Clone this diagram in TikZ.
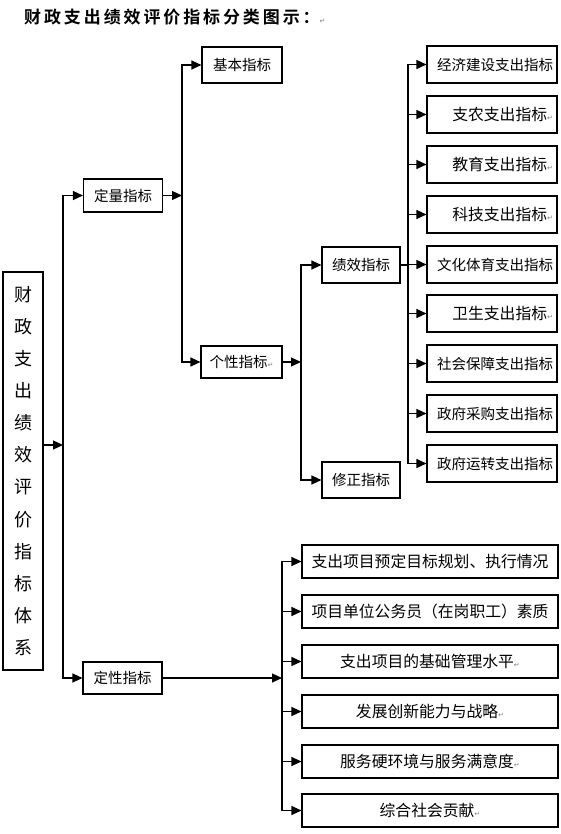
\documentclass[tikz,border=0pt]{standalone}
\usepackage{fontspec}
\setmainfont{Noto Sans CJK SC}
\newfontfamily\titlefont[LetterSpace=17]{Noto Sans CJK SC Bold}
\newfontfamily\symfont{DejaVu Sans}
\usetikzlibrary{arrows.meta}
\newcommand\rmk{{\symfont\fontsize{7}{7}\selectfont\color{gray}↵}}
\tikzset{
  bx/.style={draw=black, line width=1.1pt, inner sep=0pt, fill=white},
  fa/.style={font=\fontsize{14.5}{16}\selectfont},
  fb/.style={font=\fontsize{15.8}{17}\selectfont},
  rbox/.style={bx, minimum width=130pt, minimum height=37pt, text width=122pt, align=right},
  qbox/.style={bx, fb, minimum width=256pt, minimum height=33pt, text width=256pt, align=center},
  sbox/.style={bx, fa, minimum width=79pt, minimum height=34pt, align=center},
  ln/.style={line width=1.2pt},
  ar/.style={ln, -{Triangle[length=10pt,width=9pt]}},
}
\begin{document}
\begin{tikzpicture}[x=1pt,y=-1pt]
\useasboundingbox[fill=white] (0,0) rectangle (560,834);

% title
\node[anchor=west, inner sep=0pt, font=\fontsize{17}{18}\selectfont\titlefont] (title) at (24,17.5) {财政支出绩效评价指标分类图示：\rmk};

% main box
\node[bx, minimum width=40pt, minimum height=398pt, text width=40pt, align=center,
      font=\fontsize{18}{32.1}\selectfont] (main) at (23,471)
  {财\\政\\支\\出\\绩\\效\\评\\价\\指\\标\\体\\系};

% level 2
\node[sbox, minimum height=33pt] (dl) at (123,195.5) {定量指标};
\node[sbox, minimum height=32pt] (dx) at (122.5,678) {定性指标};

% level 3
\node[sbox, minimum width=80pt, minimum height=36pt] (jb) at (242,65) {基本指标};
\node[sbox, minimum width=81pt, minimum height=32pt] (gx) at (241.5,362) {个性指标\rmk};

% level 4
\node[sbox, minimum width=78pt, minimum height=36pt] (jx) at (361,265) {绩效指标};
\node[sbox, minimum width=78pt, minimum height=36pt] (xz) at (361,480) {修正指标};

% right column
\node[rbox, fa] (r1) at (492,64.5)  {经济建设支出指标};
\node[rbox, fb] (r2) at (492,114.5) {支农支出指标\rmk};
\node[rbox, fb] (r3) at (492,164.5) {教育支出指标\rmk};
\node[rbox, fb] (r4) at (492,214.5) {科技支出指标\rmk};
\node[rbox, fa] (r5) at (492,264.5) {文化体育支出指标};
\node[rbox, fb] (r6) at (492,313.5) {卫生支出指标\rmk};
\node[rbox, fa] (r7) at (492,363.5) {社会保障支出指标};
\node[rbox, fa] (r8) at (492,413.5) {政府采购支出指标};
\node[rbox, fa] (r9) at (492,463.5) {政府运转支出指标};

% lower column
\node[qbox] (q1) at (430,561.5) {支出项目预定目标规划、执行情况};
\node[qbox] (q2) at (430,611.5) {项目单位公务员（在岗职工）素质};
\node[qbox] (q3) at (430,661.5) {支出项目的基础管理水平\rmk};
\node[qbox] (q4) at (430,711.5) {发展创新能力与战略\rmk};
\node[qbox] (q5) at (430,761.5) {服务硬环境与服务满意度\rmk};
\node[qbox] (q6) at (430,810.5) {综合社会贡献\rmk};

% bus coordinates
\coordinate (b1) at (63,445);
\coordinate (b2) at (182,195.5);
\coordinate (b3) at (301,362);
\coordinate (b4) at (408,265);
\coordinate (b5) at (282,678);

% connectors
\draw[ar] (main.east |- b1) -- (b1);
\draw[ar] (b1) |- (dl.west);
\draw[ar] (b1) |- (dx.west);

\draw[ar] (dl.east) -- (b2);
\draw[ar] (b2) |- (jb.west);
\draw[ar] (b2) |- (gx.west);

\draw[ar] (gx.east) -- (b3);
\draw[ar] (b3) |- (jx.west);
\draw[ar] (b3) |- (xz.west);

\draw[ln] (jx.east) -- (b4);
\foreach \i in {1,...,9} \draw[ar] (b4) |- (r\i.west);

\draw[ar] (dx.east) -- (b5);
\foreach \i in {1,...,6} \draw[ar] (b5) |- (q\i.west);
\end{tikzpicture}
\end{document}
